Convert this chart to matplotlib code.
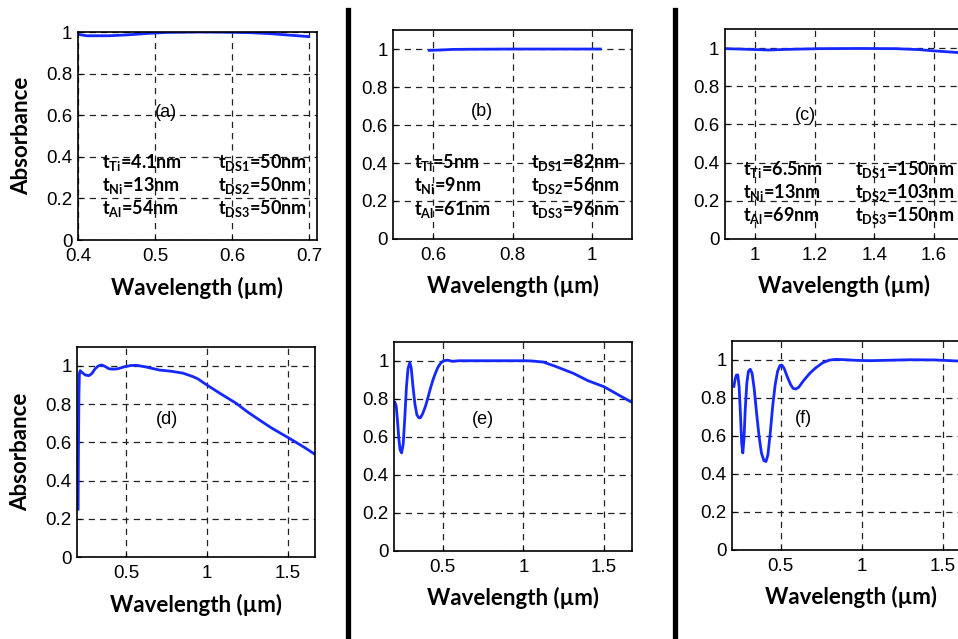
import matplotlib
matplotlib.use("Agg")
import matplotlib.pyplot as plt
from matplotlib.lines import Line2D
from matplotlib.ticker import FuncFormatter

plt.rcParams['font.family'] = ['Liberation Sans', 'DejaVu Sans']
plt.rcParams['mathtext.fontset'] = 'custom'
plt.rcParams['mathtext.rm'] = 'Lato:bold'
plt.rcParams['mathtext.bf'] = 'Lato:bold'

# absorbance spectra, wavelength in um
wl_a = [0.400, 0.411, 0.440, 0.463, 0.490, 0.515, 0.558, 0.590, 0.623, 0.650, 0.667, 0.699]
ab_a = [0.989, 0.982, 0.982, 0.986, 0.993, 0.998, 1.000, 0.999, 0.997, 0.992, 0.987, 0.978]

wl_b = [0.59, 0.62, 0.65, 0.70, 0.80, 0.90, 1.02]
ab_b = [0.993, 0.995, 0.998, 0.999, 1.0, 1.0, 1.0]

wl_c = [0.90, 0.95, 1.047, 1.10, 1.215, 1.35, 1.473, 1.55, 1.596, 1.669, 1.70]
ab_c = [0.997, 0.995, 0.990, 0.993, 0.997, 0.998, 0.997, 0.992, 0.986, 0.978, 0.975]

wl_d = [0.205, 0.207, 0.210, 0.213, 0.218, 0.230, 0.250, 0.272, 0.290, 0.310, 0.330,
        0.350, 0.370, 0.395, 0.422, 0.450, 0.490, 0.530, 0.566, 0.620, 0.709, 0.780,
        0.853, 0.914, 0.945, 0.997, 1.080, 1.180, 1.250, 1.325, 1.400, 1.510, 1.600, 1.665]
ab_d = [0.25, 0.55, 0.85, 0.96, 0.975, 0.965, 0.952, 0.949, 0.96, 0.985, 1.0,
        1.005, 0.998, 0.985, 0.983, 0.985, 0.995, 1.002, 1.003, 0.995, 0.978, 0.972,
        0.962, 0.944, 0.932, 0.902, 0.857, 0.805, 0.76, 0.717, 0.675, 0.621, 0.575, 0.539]

wl_e = [0.204, 0.212, 0.220, 0.228, 0.236, 0.245, 0.255, 0.265, 0.275, 0.285, 0.296,
        0.305, 0.315, 0.328, 0.340, 0.352, 0.362, 0.375, 0.393, 0.410, 0.424, 0.440,
        0.455, 0.470, 0.486, 0.506, 0.530, 0.560, 0.600, 0.700, 0.800, 0.900, 1.000,
        1.050, 1.123, 1.200, 1.309, 1.400, 1.500, 1.600, 1.675]
ab_e = [0.78, 0.76, 0.68, 0.59, 0.53, 0.515, 0.56, 0.70, 0.86, 0.96, 0.99,
        0.96, 0.87, 0.77, 0.715, 0.70, 0.70, 0.72, 0.76, 0.81, 0.855, 0.90,
        0.935, 0.965, 0.986, 1.0, 1.003, 0.997, 1.0, 1.0, 1.0, 1.0, 1.0,
        0.999, 0.993, 0.97, 0.934, 0.895, 0.863, 0.815, 0.78]

wl_f = [0.210, 0.218, 0.226, 0.234, 0.242, 0.250, 0.258, 0.265, 0.272, 0.280, 0.290,
        0.300, 0.311, 0.322, 0.335, 0.350, 0.365, 0.380, 0.395, 0.408, 0.420, 0.435,
        0.450, 0.465, 0.480, 0.495, 0.506, 0.520, 0.540, 0.560, 0.575, 0.592, 0.610,
        0.640, 0.680, 0.715, 0.760, 0.800, 0.840, 0.900, 0.960, 1.050, 1.150, 1.300,
        1.450, 1.550, 1.600, 1.680]
ab_f = [0.86, 0.90, 0.92, 0.92, 0.86, 0.72, 0.56, 0.51, 0.58, 0.74, 0.88,
        0.94, 0.95, 0.93, 0.85, 0.72, 0.60, 0.51, 0.47, 0.465, 0.50, 0.62,
        0.76, 0.87, 0.94, 0.97, 0.972, 0.955, 0.91, 0.87, 0.85, 0.846, 0.855,
        0.89, 0.93, 0.957, 0.985, 0.998, 1.002, 1.0, 0.997, 0.995, 0.997, 1.0,
        0.999, 0.995, 0.993, 0.99]

# layer thicknesses printed on the top row
thick_a = ['4.1', '13', '54', '50', '50', '50']
thick_b = ['5', '9', '61', '82', '56', '96']
thick_c = ['6.5', '13', '69', '150', '103', '150']

fig = plt.figure(figsize=(9.58, 6.39), dpi=100)

# tag, x, y, [left, bottom, width, height], xlim, ylim, xticks, tag pos,
# thicknesses, column x, row y, y label?
panels = [
    ('(a)', wl_a, ab_a, [0.0814, 0.6244, 0.2495, 0.3255], (0.4, 0.71), (0, 1.0),
     [0.4, 0.5, 0.6, 0.7], (0.368, 0.615), thick_a, (0.099, 0.586), (0.375, 0.26, 0.15), True),
    ('(b)', wl_b, ab_b, [0.4106, 0.626, 0.2492, 0.327], (0.5, 1.1), (0, 1.1),
     [0.6, 0.8, 1.0], (0.37, 0.609), thick_b, (0.087, 0.575), (0.367, 0.255, 0.142), False),
    ('(c)', wl_c, ab_c, [0.7568, 0.626, 0.2492, 0.3286], (0.9, 1.7), (0, 1.1),
     [1.0, 1.2, 1.4, 1.6], (0.336, 0.59), thick_c, (0.074, 0.543), (0.333, 0.222, 0.11), False),
    ('(d)', wl_d, ab_d, [0.0807, 0.1283, 0.2484, 0.329], (0.2, 1.67), (0, 1.1),
     [0.5, 1.0, 1.5], (0.376, 0.656), None, None, None, True),
    ('(e)', wl_e, ab_e, [0.4116, 0.1382, 0.2484, 0.327], (0.2, 1.675), (0, 1.1),
     [0.5, 1.0, 1.5], (0.371, 0.63), None, None, None, False),
    ('(f)', wl_f, ab_f, [0.7644, 0.1393, 0.2484, 0.3275], (0.2, 1.67), (0, 1.1),
     [0.5, 1.0, 1.5], (0.30, 0.626), None, None, None, False),
]

fmt = FuncFormatter(lambda v, p: f'{v:g}')
subs = ['Ti', 'Ni', 'Al', 'DS1', 'DS2', 'DS3']
bold = dict(family='Lato', fontweight='bold')

for (tag, x, y, pos, xlim, ylim, xt, tagxy, thick, colx, rowy, ylab) in panels:
    ax = fig.add_axes(pos)
    ax.plot(x, y, color='#1428ff', lw=2.0, solid_joinstyle='round')
    ax.set_xlim(*xlim)
    ax.set_ylim(*ylim)
    ax.set_xticks(xt)
    ax.set_yticks([0, 0.2, 0.4, 0.6, 0.8, 1.0])
    ax.xaxis.set_major_formatter(fmt)
    ax.yaxis.set_major_formatter(fmt)
    ax.tick_params(direction='in', length=3, width=0.8, labelsize=13.5)
    ax.tick_params(axis='x', pad=6)
    ax.tick_params(axis='y', pad=4)
    ax.grid(True, color='#222222', lw=0.9, linestyle=(0, (5, 4)))
    for s in ax.spines.values():
        s.set_linewidth(1.2)
    ax.set_xlabel('Wavelength (\u00b5m)', fontsize=16, labelpad=8, **bold)
    if ylab:
        ax.set_ylabel('Absorbance', fontsize=16, labelpad=10, **bold)
    ax.text(tagxy[0], tagxy[1], tag, transform=ax.transAxes, ha='center',
            va='center', fontsize=13)
    if thick is not None:
        for i in range(6):
            col = colx[0] if i < 3 else colx[1]
            row = rowy[i % 3]
            s = r't$_{\mathrm{%s}}$=%snm' % (subs[i], thick[i])
            ax.text(col, row, s, transform=ax.transAxes, ha='left',
                    va='center', fontsize=13, **bold)

# heavy separators between the three columns
for xf in (347.5 / 958, 675 / 958):
    fig.add_artist(Line2D([xf, xf], [0, 1 - 10 / 639], transform=fig.transFigure,
                          color='black', lw=3.8))

fig.savefig('out.png', dpi=100)
